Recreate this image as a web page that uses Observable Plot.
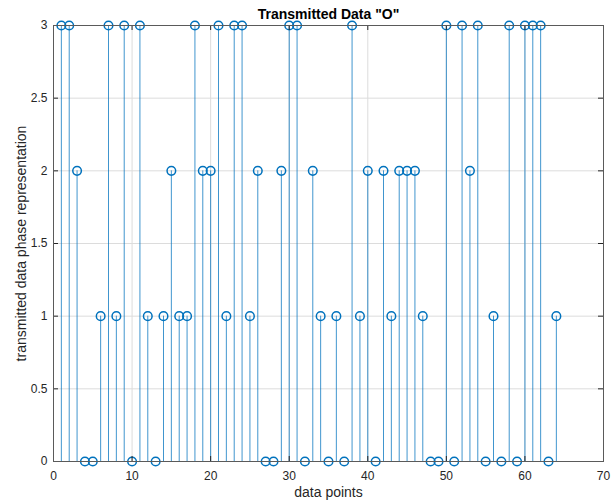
<!DOCTYPE html>
<html>
<head>
<meta charset="utf-8">
<script src="https://cdn.jsdelivr.net/npm/d3@7"></script>
<script src="https://cdn.jsdelivr.net/npm/@observablehq/plot@0.6"></script>
<style>
  html, body { margin: 0; padding: 0; background: #fff; }
  #chart svg { display: block; }
</style>
</head>
<body>
<div id="chart"></div>
<script>
const titleText = 'Transmitted Data "O"';
const xLabel = "data points";
const yLabel = "transmitted data phase representation";

const dataIndex = d3.range(1, 65);
const phaseValues = [
  3, 3, 2, 0, 0, 1, 3, 1, 3, 0,
  3, 1, 0, 1, 2, 1, 1, 3, 2, 2,
  3, 1, 3, 3, 1, 2, 0, 0, 2, 3,
  3, 0, 2, 1, 0, 1, 0, 3, 1, 2,
  0, 2, 1, 2, 2, 2, 1, 0, 0, 3,
  0, 3, 2, 3, 0, 1, 0, 3, 0, 3,
  3, 3, 0, 1
];
const xTicks = [0, 10, 20, 30, 40, 50, 60, 70];
const xTickLabels = ["0", "10", "20", "30", "40", "50", "60", "70"];
const yTicks = [0, 0.5, 1, 1.5, 2, 2.5, 3];
const yTickLabels = ["0", "0.5", "1", "1.5", "2", "2.5", "3"];

const data = dataIndex.map((x, i) => ({x, y: phaseValues[i]}));

const W = 611, H = 502;
const mL = 53, mR = 8, mT = 25, mB = 41;
const plotW = W - mL - mR, plotH = H - mT - mB;
const tickLen = 5;
const textColor = "#262626";
const stemColor = "#0072BD";
const font = "Helvetica, 'Liberation Sans', Arial, sans-serif";

const chart = Plot.plot({
  width: W,
  height: H,
  marginLeft: mL,
  marginRight: mR,
  marginTop: mT,
  marginBottom: mB,
  style: {fontFamily: font, fontSize: "12px", color: textColor, background: "#fff"},
  x: {domain: [0, 70]},
  y: {domain: [0, 3]},
  marks: [
    Plot.gridX(xTicks, {stroke: "#dcdcdc", strokeOpacity: 1}),
    Plot.gridY(yTicks, {stroke: "#dcdcdc", strokeOpacity: 1}),
    Plot.ruleX(data, {x: "x", y1: 0, y2: "y", stroke: stemColor, strokeWidth: 1, strokeOpacity: 0.75}),
    Plot.dot(data, {x: "x", y: "y", r: 4.3, stroke: stemColor, strokeWidth: 1.5, fill: "none"}),
    // inward ticks, MATLAB style
    Plot.ruleX(xTicks, {x: d => d, insetTop: plotH - tickLen, stroke: textColor}),
    Plot.ruleX(xTicks, {x: d => d, insetBottom: plotH - tickLen, stroke: textColor}),
    Plot.ruleY(yTicks, {y: d => d, insetRight: plotW - tickLen, stroke: textColor}),
    Plot.ruleY(yTicks, {y: d => d, insetLeft: plotW - tickLen, stroke: textColor}),
    Plot.frame({stroke: "#5a5a5a", strokeWidth: 1}),
    Plot.axisX(xTicks, {
      tickSize: 0, tickPadding: 10, fontSize: 12, fill: textColor,
      tickFormat: (d) => xTickLabels[xTicks.indexOf(d)],
      label: null
    }),
    Plot.axisY(yTicks, {
      tickSize: 0, tickPadding: 6, fontSize: 12, fill: textColor,
      tickFormat: (d) => yTickLabels[yTicks.indexOf(d)],
      label: null
    }),
    Plot.text([xLabel], {text: d => d, frameAnchor: "bottom", textAnchor: "middle", lineAnchor: "middle", dy: 31, fontSize: 14, fill: textColor}),
    Plot.text([yLabel], {text: d => d, frameAnchor: "left", textAnchor: "middle", lineAnchor: "middle", rotate: -90, dx: -32, fontSize: 14, fill: textColor}),
    Plot.text([titleText], {text: d => d, frameAnchor: "top", textAnchor: "middle", lineAnchor: "middle", dy: -11, fontWeight: "bold", fontSize: 14, fill: "#000"})
  ]
});
document.getElementById("chart").appendChild(chart);
</script>
</body>
</html>
